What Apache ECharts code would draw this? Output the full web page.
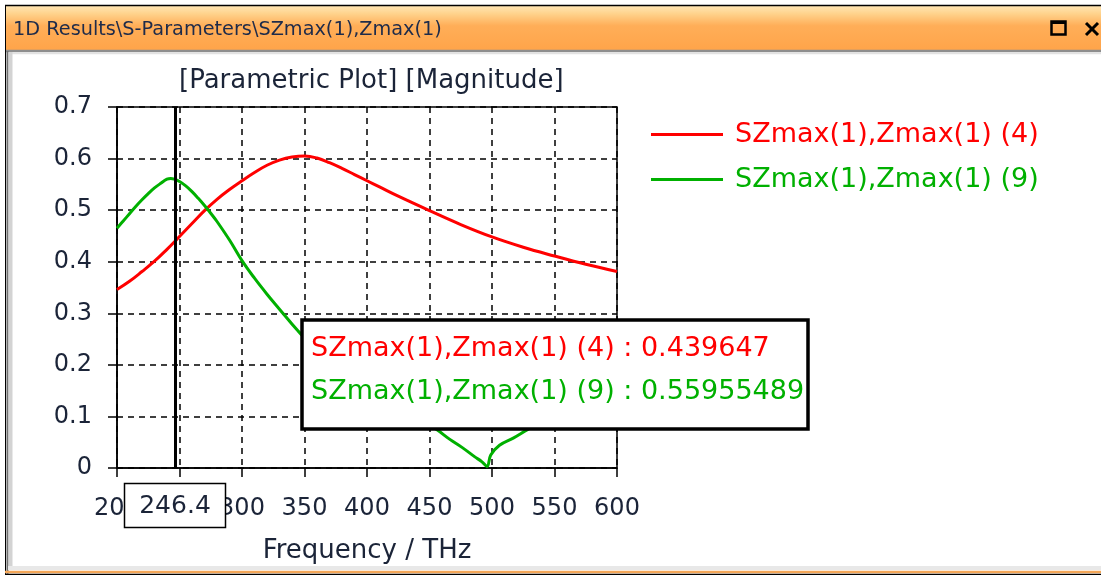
<!DOCTYPE html>
<html>
<head>
<meta charset="utf-8">
<script src="https://cdn.jsdelivr.net/npm/echarts@6/dist/echarts.min.js"></script>
<style>
  html, body { margin: 0; padding: 0; background: #fff; }
  #chart { width: 1101px; height: 575px; }
</style>
</head>
<body>
<div id="chart"></div>
<script>
// Labels
const windowTitle = '1D Results\\S-Parameters\\SZmax(1),Zmax(1)';
const plotTitle = '[Parametric Plot] [Magnitude]';
const xAxisName = 'Frequency / THz';
const seriesNames = ['SZmax(1),Zmax(1) (4)', 'SZmax(1),Zmax(1) (9)'];

// Axis ticks
const xTicks = [200, 250, 300, 350, 400, 450, 500, 550, 600];
const yTicks = [0, 0.1, 0.2, 0.3, 0.4, 0.5, 0.6, 0.7];

// Cursor position (THz)
const cursorFreq = 246.4;

// Series (4): frequency / THz and magnitude
const freq4 = [200, 210, 220, 230, 240, 246.4, 250, 260, 270, 280, 290, 300, 310, 320, 330, 340, 350, 360, 370, 380, 390, 400, 410, 425, 450, 475, 500, 525, 550, 575, 600];
const mag4  = [0.346, 0.362, 0.381, 0.401, 0.424, 0.439647, 0.449, 0.474, 0.499, 0.521, 0.540, 0.557, 0.573, 0.587, 0.597, 0.603, 0.605, 0.601, 0.592, 0.581, 0.569, 0.557, 0.545, 0.527, 0.499, 0.472, 0.448, 0.428, 0.411, 0.395, 0.381];

// Series (9): frequency / THz and magnitude
const freq9 = [200, 205, 210, 215, 220, 225, 230, 235, 240, 243, 246.4, 250, 255, 260, 265, 270, 275, 280, 290, 300, 310, 320, 330, 344, 360, 380, 400, 420, 440, 456, 466, 476, 486, 492, 496, 499, 506, 517, 528, 550, 575, 600];
const mag9  = [0.465, 0.479, 0.493, 0.507, 0.520, 0.532, 0.543, 0.552, 0.560, 0.5615, 0.55955489, 0.5555, 0.547, 0.536, 0.523, 0.509, 0.494, 0.478, 0.442, 0.402, 0.368, 0.337, 0.308, 0.268, 0.228, 0.188, 0.155, 0.125, 0.098, 0.074, 0.056, 0.040, 0.022, 0.012, 0.003, 0.025, 0.044, 0.058, 0.074, 0.105, 0.140, 0.175];

const FONT = '"DejaVu Sans", sans-serif';
const TEXT_DARK = '#1b2438';
const RED = '#ff0000';
const GREEN = '#00b000';
const seriesColors = [RED, GREEN];

const zip = (xs, ys) => xs.map((x, i) => [x, ys[i]]);
const valueAt = (xs, ys, x) => ys[xs.indexOf(x)];

const chart = echarts.init(document.getElementById('chart'), null, { renderer: 'canvas' });

const fmtTick = v => (Math.round(v * 10) / 10).toString();

chart.setOption({
  animation: false,
  backgroundColor: '#ffffff',
  title: {
    text: plotTitle,
    left: 179,
    top: 68,
    padding: 0,
    textStyle: { fontFamily: FONT, fontSize: 26, fontWeight: 'normal', color: TEXT_DARK }
  },
  legend: {
    orient: 'vertical',
    left: 651,
    top: 121,
    padding: 0,
    icon: 'rect',
    itemWidth: 72,
    itemHeight: 3,
    itemGap: 18,
    selectedMode: false,
    textStyle: { fontFamily: FONT, fontSize: 27, padding: [0, 0, 0, 7] },
    data: seriesNames.map((n, i) => ({ name: n, textStyle: { color: seriesColors[i] } }))
  },
  grid: {
    left: 117, right: 1101 - 617, top: 107, bottom: 575 - 468,
    show: true, borderColor: '#000', borderWidth: 1.5, backgroundColor: '#fff'
  },
  xAxis: {
    type: 'value',
    min: xTicks[0], max: xTicks[xTicks.length - 1], interval: xTicks[1] - xTicks[0],
    name: xAxisName, nameLocation: 'middle', nameGap: 70,
    nameTextStyle: { fontFamily: FONT, fontSize: 26, color: TEXT_DARK },
    axisLine: { lineStyle: { color: '#000', width: 1.5 } },
    axisTick: { show: true, length: 9, lineStyle: { color: '#000', width: 1.5 } },
    axisLabel: { fontFamily: FONT, fontSize: 24, color: TEXT_DARK, margin: 29, formatter: v => String(v) },
    splitLine: { show: true, lineStyle: { color: '#000', width: 1.5, type: [6, 5] } }
  },
  yAxis: {
    type: 'value',
    min: yTicks[0], max: yTicks[yTicks.length - 1], interval: 0.1,
    axisLine: { show: true, lineStyle: { color: '#000', width: 1.5 } },
    axisTick: { show: true, length: 9, lineStyle: { color: '#000', width: 1.5 } },
    axisLabel: { fontFamily: FONT, fontSize: 24, color: TEXT_DARK, margin: 25, formatter: fmtTick },
    splitLine: { show: true, lineStyle: { color: '#000', width: 1.5, type: [6, 5] } }
  },
  series: [
    {
      name: seriesNames[0], type: 'line', smooth: 0.4, symbol: 'none',
      data: zip(freq4, mag4),
      lineStyle: { color: RED, width: 3 }, itemStyle: { color: RED },
      z: 3,
      markLine: {
        silent: true, symbol: 'none', label: { show: false },
        lineStyle: { color: '#000', width: 3, type: 'solid' },
        data: [{ xAxis: cursorFreq }],
        z: 5
      }
    },
    {
      name: seriesNames[1], type: 'line', smooth: 0.4, symbol: 'none',
      data: zip(freq9, mag9),
      lineStyle: { color: GREEN, width: 3 }, itemStyle: { color: GREEN },
      z: 4
    }
  ]
});

// Window frame, cursor readout box and value box
const cursorPx = chart.convertToPixel({ gridIndex: 0 }, [cursorFreq, 0]);
const readout4 = valueAt(freq4, mag4, cursorFreq);
const readout9 = valueAt(freq9, mag9, cursorFreq);

chart.setOption({
  graphic: [
    // title bar
    { type: 'rect', z: 0, shape: { x: 5, y: 5, width: 1096, height: 46 },
      style: { fill: { type: 'linear', x: 0, y: 0, x2: 0, y2: 1, colorStops: [
        { offset: 0, color: '#ffe7b8' }, { offset: 0.18, color: '#ffd48e' },
        { offset: 0.45, color: '#ffae58' }, { offset: 1, color: '#ffa449' } ] } } },
    { type: 'line', z: 1, shape: { x1: 5, y1: 5.5, x2: 1101, y2: 5.5 }, style: { stroke: '#000', lineWidth: 1.5 } },
    { type: 'line', z: 1, shape: { x1: 5, y1: 51, x2: 1101, y2: 51 }, style: { stroke: '#8e8e8e', lineWidth: 2.5 } },
    { type: 'line', z: 1, shape: { x1: 12, y1: 53.5, x2: 1101, y2: 53.5 }, style: { stroke: '#e2e2e2', lineWidth: 1.5 } },
    { type: 'text', z: 2, x: 13, y: 30,
      style: { text: windowTitle, fontFamily: FONT, fontSize: 19.3, fill: '#1e2b4a', verticalAlign: 'middle' } },
    // maximize / close icons
    { type: 'rect', z: 2, shape: { x: 1051.5, y: 21.5, width: 14, height: 13 }, style: { fill: 'none', stroke: '#000', lineWidth: 2.5 } },
    { type: 'line', z: 2, shape: { x1: 1051, y1: 22.5, x2: 1066, y2: 22.5 }, style: { stroke: '#000', lineWidth: 3 } },
    { type: 'line', z: 2, shape: { x1: 1086, y1: 23, x2: 1098, y2: 35 }, style: { stroke: '#000', lineWidth: 3 } },
    { type: 'line', z: 2, shape: { x1: 1098, y1: 23, x2: 1086, y2: 35 }, style: { stroke: '#000', lineWidth: 3 } },
    // left frame
    { type: 'line', z: 1, shape: { x1: 5.5, y1: 5, x2: 5.5, y2: 575 }, style: { stroke: '#000', lineWidth: 1 } },
    { type: 'line', z: 1, shape: { x1: 7.5, y1: 51, x2: 7.5, y2: 575 }, style: { stroke: '#6f6f6f', lineWidth: 2 } },
    { type: 'rect', z: 1, shape: { x: 8.5, y: 52, width: 4, height: 516 }, style: { fill: '#d3d3d3' } },
    // bottom frame
    { type: 'rect', z: 1, shape: { x: 8, y: 566, width: 1093, height: 4 }, style: { fill: '#e8e8e8' } },
    { type: 'line', z: 1, shape: { x1: 5, y1: 572, x2: 1101, y2: 572 }, style: { stroke: '#f4a657', lineWidth: 2.5 } },
    { type: 'line', z: 1, shape: { x1: 5, y1: 574.5, x2: 1101, y2: 574.5 }, style: { stroke: '#000', lineWidth: 1.5 } },
    // cursor frequency readout
    { type: 'rect', z: 20, shape: { x: Math.round(cursorPx[0]) - 50.5, y: 483.5, width: 101, height: 44 },
      style: { fill: '#fff', stroke: '#000', lineWidth: 1.5 } },
    { type: 'text', z: 21, x: cursorPx[0], y: 506,
      style: { text: String(cursorFreq), fontFamily: FONT, fontSize: 25, fill: TEXT_DARK, align: 'center', verticalAlign: 'middle' } },
    // values at cursor
    { type: 'rect', z: 20, shape: { x: 302, y: 320, width: 506, height: 109 },
      style: { fill: '#fff', stroke: '#000', lineWidth: 3.5 } },
    { type: 'text', z: 21, x: 311, y: 349,
      style: { text: seriesNames[0] + ' : ' + readout4, fontFamily: FONT, fontSize: 27, fill: RED, verticalAlign: 'middle' } },
    { type: 'text', z: 21, x: 311, y: 392,
      style: { text: seriesNames[1] + ' : ' + readout9, fontFamily: FONT, fontSize: 27, fill: GREEN, verticalAlign: 'middle' } }
  ]
});
</script>
</body>
</html>
